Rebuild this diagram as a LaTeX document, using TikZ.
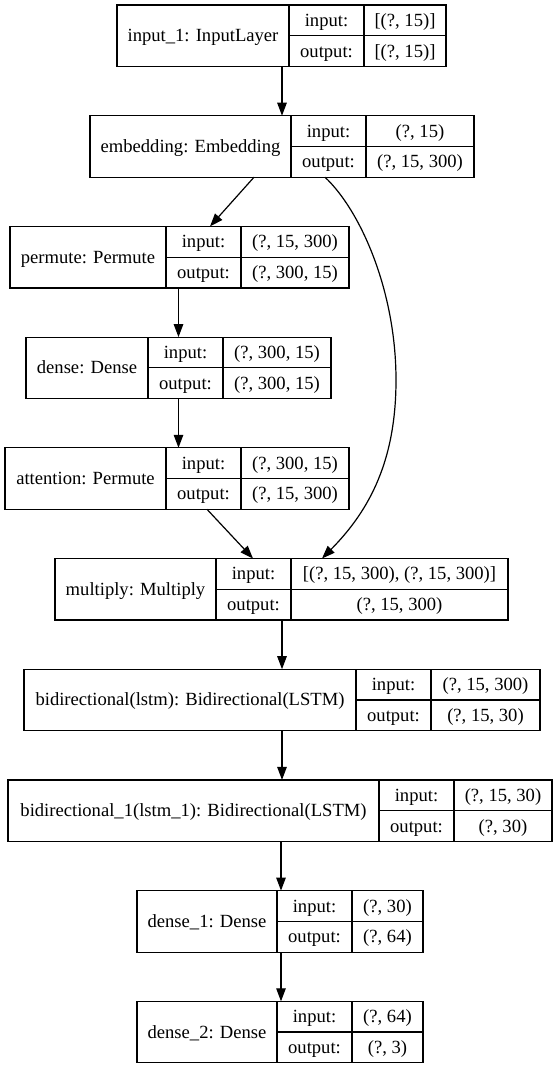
\documentclass[tikz,border=0pt]{standalone}
\usepackage{fontspec}
\setmainfont{Liberation Serif}
\usetikzlibrary{arrows.meta,calc}
\tikzset{
  recbox/.style={draw=black, line width=1.2pt, inner sep=0pt, outer sep=0pt, rectangle},
  divline/.style={draw=black, line width=1.2pt},
  txt/.style={inner sep=0pt, anchor=base, font=\fontsize{18.6}{22}\selectfont},
  arr/.style={draw=black, line width=1.2pt, -{Triangle[length=13pt,width=9.5pt]}},
}
\newcommand\myrec[9]{%
  \pgfmathsetmacro\rwid{#5-#2}%
  \pgfmathsetmacro\rcx{(#2+#5)/2}%
  \pgfmathsetmacro\rcy{#6+30.75}%
  \pgfmathsetmacro\rbot{#6+61.5}%
  \node[recbox, minimum width=\rwid pt, minimum height=61.5pt] (#1) at (\rcx,\rcy) {};
  \draw[divline] (#3,#6) -- (#3,\rbot);
  \draw[divline] (#4,#6) -- (#4,\rbot);
  \draw[divline] (#3,\rcy) -- (#5,\rcy);
  \node[txt] (#1-t) at ({(#2+#3)/2},\rcy+6) {#7};
  \node[txt] (#1-il) at ({(#3+#4)/2},#6+21.4) {input:};
  \node[txt] (#1-ol) at ({(#3+#4)/2},#6+52.1) {output:};
  \node[txt] (#1-iv) at ({(#4+#5)/2},#6+21.4) {#8};
  \node[txt] (#1-ov) at ({(#4+#5)/2},#6+52.1) {#9};
}
\begin{document}
\begin{tikzpicture}[x=1pt,y=-1pt]
\useasboundingbox[fill=white] (0,0) rectangle (557,1069);
\myrec{in1}{117}{289}{364}{446}{5}{input\_1: InputLayer}{[(?, 15)]}{[(?, 15)]}
\myrec{emb}{90}{291}{366}{474}{115.7}{embedding: Embedding}{(?, 15)}{(?, 15, 300)}
\myrec{perm}{10}{166}{241}{349}{226.4}{permute: Permute}{(?, 15, 300)}{(?, 300, 15)}
\myrec{dns}{26}{148}{223}{331}{337.1}{dense: Dense}{(?, 300, 15)}{(?, 300, 15)}
\myrec{att}{5}{166}{241}{349}{447.8}{attention: Permute}{(?, 300, 15)}{(?, 15, 300)}
\myrec{mul}{55}{216}{291}{508}{558.5}{multiply: Multiply}{[(?, 15, 300), (?, 15, 300)]}{(?, 15, 300)}
\myrec{bi}{24}{356}{431}{540}{669.2}{bidirectional(lstm): Bidirectional(LSTM)}{(?, 15, 300)}{(?, 15, 30)}
\myrec{bia}{8}{379}{454}{552}{779.9}{bidirectional\_1(lstm\_1): Bidirectional(LSTM)}{(?, 15, 30)}{(?, 30)}
\myrec{da}{137}{277}{352}{423}{890.6}{dense\_1: Dense}{(?, 30)}{(?, 64)}
\myrec{db}{137}{277}{352}{423}{1001.3}{dense\_2: Dense}{(?, 64)}{(?, 3)}

\draw[arr] ([xshift=165pt]in1.south west) -- ([xshift=192pt]emb.north west);
\draw[arr] ([xshift=164pt]emb.south west) -- ([xshift=200pt]perm.north west);
\draw[arr] ([xshift=235pt]emb.south west) .. controls (360,210) and (396,290) .. (396,380)
   .. controls (396,460) and (370,510) .. ([xshift=267pt]mul.north west);
\draw[arr] ([xshift=168.5pt]perm.south west) -- ([xshift=152.5pt]dns.north west);
\draw[arr] ([xshift=152.5pt]dns.south west) -- ([xshift=173.5pt]att.north west);
\draw[arr] ([xshift=202pt]att.south west) -- ([xshift=198pt]mul.north west);
\draw[arr] ([xshift=227pt]mul.south west) -- ([xshift=258pt]bi.north west);
\draw[arr] ([xshift=258pt]bi.south west) -- ([xshift=274pt]bia.north west);
\draw[arr] ([xshift=273pt]bia.south west) -- ([xshift=144pt]da.north west);
\draw[arr] ([xshift=144pt]da.south west) -- ([xshift=144pt]db.north west);
\end{tikzpicture}
\end{document}
